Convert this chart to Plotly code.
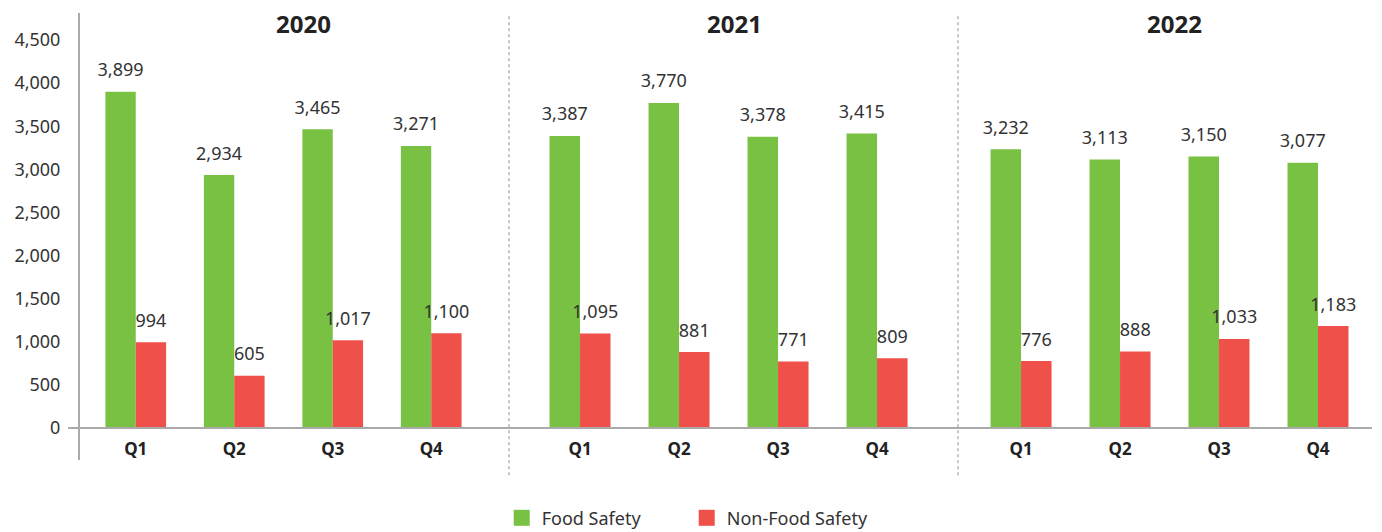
import plotly.graph_objects as go

years = ["2020", "2021", "2022"]
quarters = ["Q1", "Q2", "Q3", "Q4"]
food_safety = [
    [3899, 2934, 3465, 3271],
    [3387, 3770, 3378, 3415],
    [3232, 3113, 3150, 3077],
]
non_food_safety = [
    [994, 605, 1017, 1100],
    [1095, 881, 771, 809],
    [776, 888, 1033, 1183],
]
y_ticks = [0, 500, 1000, 1500, 2000, 2500, 3000, 3500, 4000, 4500]

GREEN = "#79C143"
RED = "#F0504A"
FONT = "Noto Sans"
series = [("Food Safety", food_safety, GREEN, "fs"), ("Non-Food Safety", non_food_safety, RED, "nfs")]

fig = go.Figure()
xaxes = ["x", "x2", "x3"]
for i, yr in enumerate(years):
    for name, vals, col, grp in series:
        fig.add_trace(go.Bar(
            x=quarters, y=vals[i], name=name, xaxis=xaxes[i], yaxis="y", offsetgroup=grp,
            marker_color=col, marker_line_width=0, legendgroup=name, showlegend=False))
    # value labels, grouped the same way as the bars
    for name, vals, col, grp in series:
        fig.add_trace(go.Scatter(
            x=quarters, y=vals[i], xaxis=xaxes[i], yaxis="y", mode="markers+text", offsetgroup=grp,
            marker=dict(size=16, color="rgba(0,0,0,0)"), legendgroup=name, showlegend=False,
            text=[f"{v:,}" for v in vals[i]], textposition="top center",
            textfont=dict(size=18, color="#333333"), cliponaxis=False, hoverinfo="skip"))

# legend entries with bigger square swatches
for name, vals, col, grp in series:
    fig.add_trace(go.Scatter(
        x=[None], y=[None], name=name, mode="markers", legendgroup=name, offsetgroup=grp,
        marker=dict(symbol="square", size=16, color=col)))

# plot area (figure px): x 71..1364, y 5..452
ymin, ymax = -371, 4813
zero_pos = -ymin / (ymax - ymin)
domains = [(0.0058, 0.3105), (0.3492, 0.6555), (0.6903, 0.9965)]
xfmt = dict(type="category", showgrid=False, zeroline=False, showline=False,
            tickfont=dict(size=17, color="#222222", family=FONT, weight="bold"),
            anchor="free", position=zero_pos, ticks="outside", ticklen=6,
            tickcolor="rgba(0,0,0,0)", fixedrange=True, automargin=False)

fig.update_layout(
    xaxis=dict(domain=domains[0], **xfmt),
    xaxis2=dict(domain=domains[1], **xfmt),
    xaxis3=dict(domain=domains[2], **xfmt),
    yaxis=dict(range=[ymin, ymax], tickvals=y_ticks, tickformat=",", showgrid=False,
               zeroline=False, showline=True, linecolor="#aaaaab", linewidth=2,
               anchor="free", position=0, domain=[0, 1],
               tickfont=dict(size=18, color="#333333"), ticks="outside", ticklen=14,
               tickcolor="rgba(0,0,0,0)", automargin=False),
    barmode="group", bargap=0.384, bargroupgap=0,
    scattermode="group", scattergap=0.384,
    font=dict(family=FONT, color="#333333"),
    paper_bgcolor="white", plot_bgcolor="white",
    width=1374, height=524,
    margin=dict(l=71, r=10, t=5, b=72, autoexpand=False),
    showlegend=True,
    legend=dict(orientation="h", x=0.47, xanchor="center", y=-0.13, yanchor="middle",
                entrywidth=140, entrywidthmode="pixels",
                font=dict(size=18, color="#333333"), traceorder="normal"),
)

# zero line
fig.add_shape(type="line", xref="paper", yref="y", x0=-11 / 1293, x1=1, y0=0, y1=0,
              line=dict(color="#aaaaab", width=2))
# dotted year separators
for sx in [(509 - 79) / 1293, (958 - 79) / 1293]:
    fig.add_shape(type="line", xref="paper", yref="paper", x0=sx, x1=sx, y0=-0.034, y1=0.995,
                  line=dict(color="#b5b5b5", width=1.5, dash="dot"))

# year headings
for yr, ax in zip(years, [0.1736, 0.5066, 0.8476]):
    fig.add_annotation(text=f"<b>{yr}</b>", x=ax, y=0.9765, xref="paper", yref="paper",
                       xanchor="center", yanchor="middle",
                       showarrow=False, font=dict(size=24, color="#222222"))

fig.write_html("out.html")
